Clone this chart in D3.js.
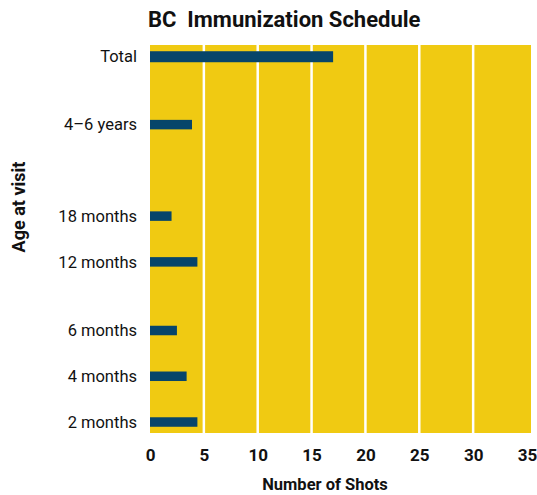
<!DOCTYPE html>
<html>
<head>
<meta charset="utf-8">
<script src="https://cdn.jsdelivr.net/npm/d3@7"></script>
<style>
  body { margin: 0; background: #fff; }
  svg { display: block; font-family: Roboto, "Noto Sans", sans-serif; }
</style>
</head>
<body>
<svg id="chart" width="537" height="495"></svg>
<script>
// visits from bottom to top, with the number of empty rows that follow each one
const categories = ['2 months', '4 months', '6 months', '12 months', '18 months', '4\u20136 years', 'Total'];
const shots = [4.4, 3.4, 2.5, 4.4, 2.0, 3.9, 17.0];
const gapsAfter = [1, 1, 2, 1, 3, 2, 0];
const xTicks = [0, 5, 10, 15, 20, 25, 30, 35];

const width = 537;
const height = 495;
const margin = {top: 45, right: 6, bottom: 62, left: 150};

const svg = d3.select('#chart');

// build the row domain: each visit plus blank spacer rows
const rows = [];
categories.forEach(function(c, i) {
  rows.push(c);
  for (let g = 0; g < gapsAfter[i]; g++) {
    rows.push('__gap' + i + '_' + g);
  }
});

const x = d3.scaleLinear()
    .domain([0, 35])
    .range([margin.left, margin.left + 377]);

const y = d3.scalePoint()
    .domain(rows)
    .range([height - margin.bottom, margin.top])
    .padding(0.48);

// plot background
svg.append('rect')
    .attr('x', margin.left)
    .attr('y', margin.top)
    .attr('width', width - margin.right - margin.left)
    .attr('height', height - margin.bottom - margin.top)
    .attr('fill', '#f0ca12');

// white vertical grid lines
svg.append('g')
    .selectAll('line')
    .data(xTicks.filter(function(t) { return t > 0 && t < 35; }))
    .enter().append('line')
    .attr('x1', function(d) { return x(d); })
    .attr('x2', function(d) { return x(d); })
    .attr('y1', margin.top)
    .attr('y2', height - margin.bottom)
    .attr('stroke', '#fff')
    .attr('stroke-width', 2.5);

// bars
const barHeight = 9.5;
svg.append('g')
    .selectAll('.bar')
    .data(categories)
    .enter().append('rect')
    .attr('class', 'bar')
    .attr('x', x(0))
    .attr('y', function(d) { return y(d) - barHeight / 2; })
    .attr('width', function(d, i) { return x(shots[i]) - x(0); })
    .attr('height', function(d) { return d === 'Total' ? 11 : barHeight; })
    .attr('fill', '#07456a');

// x axis
const xAxis = svg.append('g')
    .attr('transform', 'translate(0,' + (height - margin.bottom) + ')')
    .call(d3.axisBottom(x).tickValues(xTicks).tickSize(0).tickPadding(16));
xAxis.select('.domain').remove();
xAxis.selectAll('text')
    .attr('font-family', 'Roboto, sans-serif')
    .attr('font-size', 17)
    .attr('font-weight', 'bold')
    .attr('fill', '#111');

// y axis
const yAxis = svg.append('g')
    .attr('transform', 'translate(' + margin.left + ',0)')
    .call(d3.axisLeft(y).tickValues(categories).tickSize(0).tickPadding(13));
yAxis.select('.domain').remove();
yAxis.selectAll('text')
    .attr('font-family', 'Roboto, sans-serif')
    .attr('font-size', 16.5)
    .attr('fill', '#111');

// title
svg.append('text')
    .attr('x', 148)
    .attr('y', 27)
    .attr('font-size', 22)
    .attr('font-weight', 'bold')
    .attr('fill', '#111')
    .attr('xml:space', 'preserve')
    .text('BC  Immunization Schedule');

// axis titles
svg.append('text')
    .attr('x', 325)
    .attr('y', 490)
    .attr('text-anchor', 'middle')
    .attr('font-size', 16.5)
    .attr('font-weight', 'bold')
    .attr('fill', '#111')
    .text('Number of Shots');

svg.append('text')
    .attr('transform', 'translate(25,207) rotate(-90)')
    .attr('text-anchor', 'middle')
    .attr('font-size', 18)
    .attr('font-weight', 'bold')
    .attr('fill', '#111')
    .text('Age at visit');
</script>
</body>
</html>
